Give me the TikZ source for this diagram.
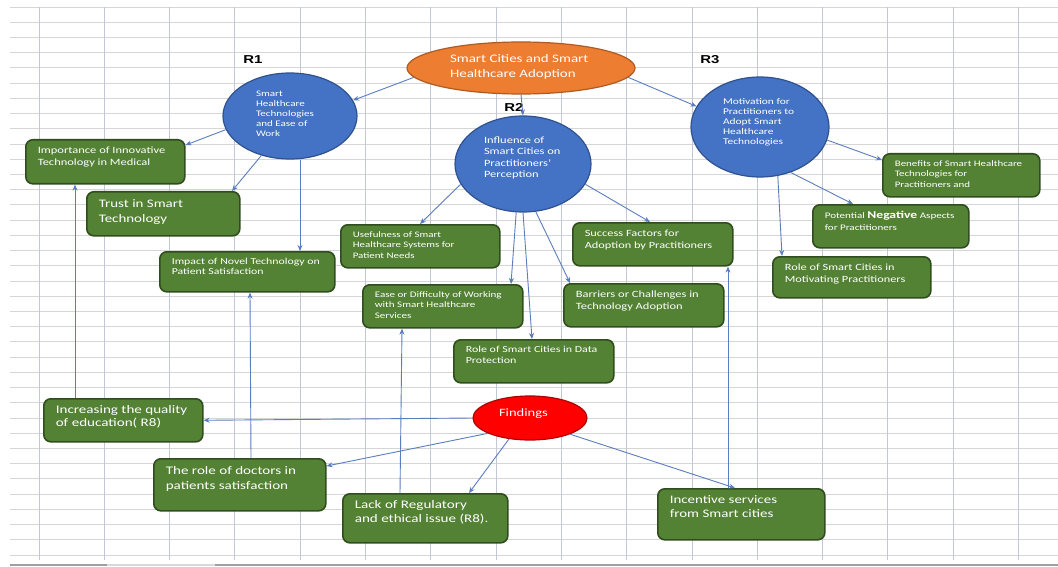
\documentclass[tikz,border=0pt]{standalone}
\usepackage{fontspec}
\setmainfont[FakeStretch=1.3]{Carlito}
\newfontfamily\rfont[FakeStretch=1.3]{Liberation Sans}
\usetikzlibrary{shapes.geometric,arrows.meta}
\definecolor{gfill}{HTML}{548235}
\definecolor{gline}{HTML}{304D1E}
\definecolor{bfill}{HTML}{4472C4}
\definecolor{bline}{HTML}{2F528F}
\definecolor{ofill}{HTML}{ED7D31}
\definecolor{oline}{HTML}{AE5A21}
\definecolor{rfill}{HTML}{FF0000}
\definecolor{rline}{HTML}{B00000}
\definecolor{arrc}{HTML}{5A7DC0}
\definecolor{gridh}{HTML}{D6D6D6}
\definecolor{gridv}{HTML}{C2C6D6}
\tikzset{
  gbox/.style={draw=gline, fill=gfill, line width=1.6pt, rounded corners=7pt, text=white, inner xsep=12pt, inner ysep=5pt},
  bcirc/.style={ellipse, draw=bline, fill=bfill, line width=1.2pt, text=white, inner sep=0pt},
  arr/.style={draw=arrc, line width=0.9pt, -{Stealth[length=6pt,width=5pt]}},
  rlab/.style={font=\rfont\bfseries\fontsize{11.5}{12}\selectfont, inner sep=0pt},
  hgrid/.style={draw=gridh, line width=0.8pt},
  vgrid/.style={draw=gridv, line width=0.9pt}
}
% #1 name, #2 x, #3 y, #4 w, #5 h, #6 font size, #7 baselineskip, #8 text
\newcommand{\gbox}[8]{%
  \node[gbox, anchor=north west] (#1) at (#2,#3)
   {\parbox[c][\dimexpr#5pt-10pt\relax][t]{\dimexpr#4pt-24pt\relax}{\fontsize{#6}{#7}\selectfont\begin{tabular}[t]{@{}l@{}}#8\end{tabular}}};}
% #1 width, #2 height, #3 font size, #4 baselineskip, #5 text
\newcommand{\etxt}[5]{\parbox[c][#2pt][t]{#1pt}{\fontsize{#3}{#4}\selectfont\begin{tabular}[t]{@{}l@{}}#5\end{tabular}}}
\begin{document}
\begin{tikzpicture}[x=1pt,y=-1pt]
\useasboundingbox (0,0) rectangle (1058,567);
\fill[white] (0,0) rectangle (1058,567);
% spreadsheet grid
\foreach \k in {0,...,36} \draw[hgrid] (10,{7+15.22*\k}) -- (1058,{7+15.22*\k});
\foreach \k in {0,...,15} \draw[vgrid] ({39+65.3*\k},7) -- ({39+65.3*\k},560);
\draw[gray!75, line width=2pt] (10,564.5) -- (107,564.5);
\draw[gray!30, line width=2pt] (107,564.5) -- (215,564.5);
\draw[gray!75, line width=2pt] (215,564.5) -- (1058,564.5);

% top ellipse
\node[ellipse, draw=oline, fill=ofill, line width=1.2pt, text=white, inner sep=0pt,
      minimum width=228pt, minimum height=52pt] (top) at (521,68)
  {\etxt{142}{31}{11.5}{15}{Smart Cities and Smart\\Healthcare Adoption}};

% R labels
\node[rlab] (lr1) at (253,60) {R1};
\node[rlab] (lr2) at (514,107) {R2};
\node[rlab] (lr3) at (710,60) {R3};

% blue circles
\node[bcirc, minimum width=134pt, minimum height=86pt] (r1) at (290,116)
  {\etxt{68}{52}{8.5}{10}{Smart\\Healthcare\\Technologies\\and Ease of\\Work}};
\node[bcirc, minimum width=136pt, minimum height=96pt] (r2) at (523,164)
  {\etxt{78}{58}{9.6}{11.5}{Influence of\\Smart Cities on\\Practitioners'\\Perception}};
\node[bcirc, minimum width=138pt, minimum height=100pt] (r3) at (760,127)
  {\etxt{74}{59}{8.8}{10}{Motivation for\\Practitioners to\\Adopt Smart\\Healthcare\\Technologies}};

% findings
\node[ellipse, draw=rline, fill=rfill, line width=1.2pt, text=white, inner sep=0pt,
      minimum width=114pt, minimum height=44pt] (fin) at (530,418)
  {\etxt{62}{20}{11.2}{12}{Findings}};

% green boxes
\gbox{imp}{25}{139}{159}{44}{9.6}{12}{Importance of Innovative\\Technology in Medical}
\gbox{trust}{86}{191}{153}{44}{11.5}{15}{Trust in Smart\\Technology}
\gbox{impact}{159}{251}{175}{40}{9.1}{10.5}{Impact of Novel Technology on\\Patient Satisfaction}
\gbox{use}{340}{224}{159}{43}{8.4}{10.5}{Usefulness of Smart\\Healthcare Systems for\\Patient Needs}
\gbox{ease}{362}{284}{160}{43}{8.5}{10.5}{Ease or Difficulty of Working\\with Smart Healthcare\\Services}
\gbox{data}{453}{339}{160}{43}{9.2}{11}{Role of Smart Cities in Data\\Protection}
\gbox{succ}{572}{222}{160}{43}{9.5}{12}{Success Factors for\\Adoption by Practitioners}
\gbox{barr}{563}{283}{160}{43}{9.6}{12}{Barriers or Challenges in\\Technology Adoption}
\gbox{ben}{882}{153}{157}{43}{8.4}{10.5}{Benefits of Smart Healthcare\\Technologies for\\Practitioners and}
\gbox{neg}{812}{204}{156}{43}{8.5}{12}{Potential {\fontsize{10.5}{12}\selectfont\bfseries Negative} Aspects\\for Practitioners}
\gbox{rolem}{772}{256}{158}{41}{9.5}{12}{Role of Smart Cities in\\Motivating Practitioners}
\gbox{incq}{43}{398}{159}{43}{11.6}{13.5}{Increasing the quality\\of education( R8)}
\gbox{doc}{153}{458}{172}{52}{11.6}{15}{The role of doctors in\\patients satisfaction}
\gbox{lack}{342}{493}{165}{49}{11.6}{14}{Lack of Regulatory\\and ethical issue (R8).}
\gbox{incs}{657}{488}{167}{51}{11.5}{14}{Incentive services\\from Smart cities}

% connectors
\draw[arr] (top.185) -- (r1.14);
\draw[arr] (top.south) -- (r2.north);
\draw[arr] (top.355) -- (r3.162);
\draw[arr] (r1.192) -- (imp.east |- 0,145);
\draw[arr] (r1.234) -- (232,0 |- trust.north);
\draw[arr] (300,0 |- r1.south) -- (300,0 |- impact.north);
\draw[arr] (r2.198) -- (420,0 |- use.north);
\draw[arr] (r2.262) -- (511,0 |- ease.north);
\draw[arr] (r2.south) -- (532,0 |- data.north);
\draw[arr] (r2.285) -- (570,0 |- barr.north);
\draw[arr] (r2.342) -- (650,0 |- succ.north);
\draw[arr] (r3.349) -- (ben.west |- 0,160);
\draw[arr] (r3.304) -- (853,0 |- neg.north);
\draw[arr] (r3.290) -- (782,0 |- rolem.north);
\draw[arr] (fin.west) -- (incq.east);
\draw[arr] (fin.200) -- (doc.east |- 0,466);
\draw[arr] (fin.225) -- (469,0 |- lack.north);
\draw[arr] (fin.338) -- (735,0 |- incs.north);
\draw[arr] (75,0 |- incq.north) -- (75,0 |- imp.south);
\draw[arr] (251,0 |- doc.north) -- (250,0 |- impact.south);
\draw[arr] (400,0 |- lack.north) -- (402,0 |- ease.south);
\draw[arr] (728,0 |- incs.north) -- (728,0 |- succ.south);
\end{tikzpicture}
\end{document}
